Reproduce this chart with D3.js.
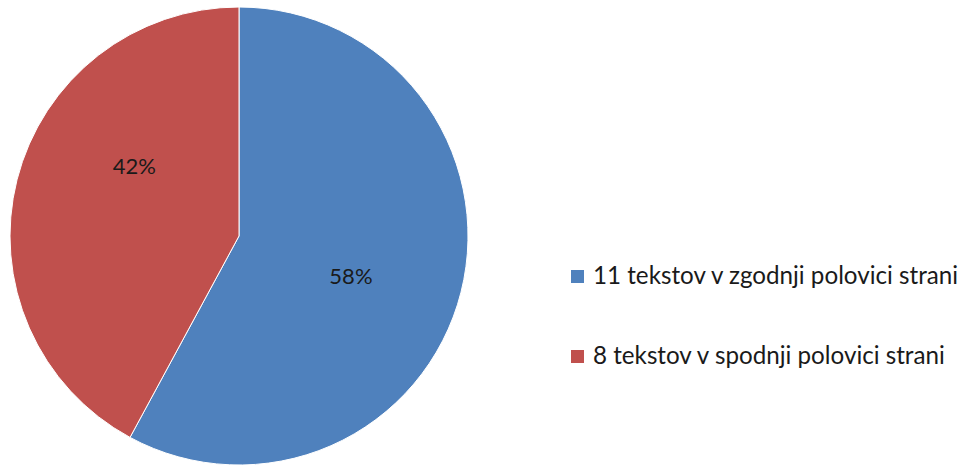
<!DOCTYPE html>
<html>
<head>
<meta charset="utf-8">
<script src="https://cdn.jsdelivr.net/npm/d3@7"></script>
<style>
	body { margin: 0; background: #fff; }
	text { font-family: Lato, "Open Sans", sans-serif; fill: #1a1a1a; }
</style>
</head>
<body>
<div id="svg-container"></div>
<script>
var width = 967;
var height = 465;

var labels = ["11 tekstov v zgodnji polovici strani", "8 tekstov v spodnji polovici strani"];
var values = [11, 8];
var colors = ["#4F81BD", "#C0504D"];

var svg = d3.select("#svg-container").append("svg")
	.attr("width", width)
	.attr("height", height);

var cx = 239, cy = 236, radius = 229;

var pie = d3.pie().sort(null).value(function(d) { return d; });
var arc = d3.arc().innerRadius(0).outerRadius(radius);
var total = d3.sum(values);

var g = svg.append("g").attr("transform", "translate(" + cx + "," + cy + ")");

g.selectAll("path")
	.data(pie(values))
	.enter()
	.append("path")
	.attr("d", arc)
	.attr("fill", function(d, i) { return colors[i]; })
	.attr("stroke", "#fff")
	.attr("stroke-width", 1);

// excel "best fit" puts the labels a bit off the mid angle
var labelShift = [0.1, 0.34];
var labelRadius = [0.52, 0.55];
g.selectAll("text")
	.data(pie(values))
	.enter()
	.append("text")
	.attr("transform", function(d, i) {
		var a = (d.startAngle + d.endAngle) / 2 + labelShift[i];
		var r = radius * labelRadius[i];
		return "translate(" + (r * Math.sin(a)) + "," + (-r * Math.cos(a)) + ")";
	})
	.attr("text-anchor", "middle")
	.attr("dy", "0.35em")
	.attr("font-size", 22)
	.text(function(d) { return Math.round(d.value / total * 100) + "%"; });

var legend = svg.append("g");
var item = legend.selectAll("g")
	.data(labels)
	.enter()
	.append("g")
	.attr("transform", function(d, i) { return "translate(571," + (270 + i * 80) + ")"; });

item.append("rect")
	.attr("width", 13)
	.attr("height", 13)
	.attr("fill", function(d, i) { return colors[i]; });

item.append("text")
	.attr("x", 22)
	.attr("y", 14)
	.attr("font-size", 24.2)
	.text(function(d) { return d; });
</script>
</body>
</html>
